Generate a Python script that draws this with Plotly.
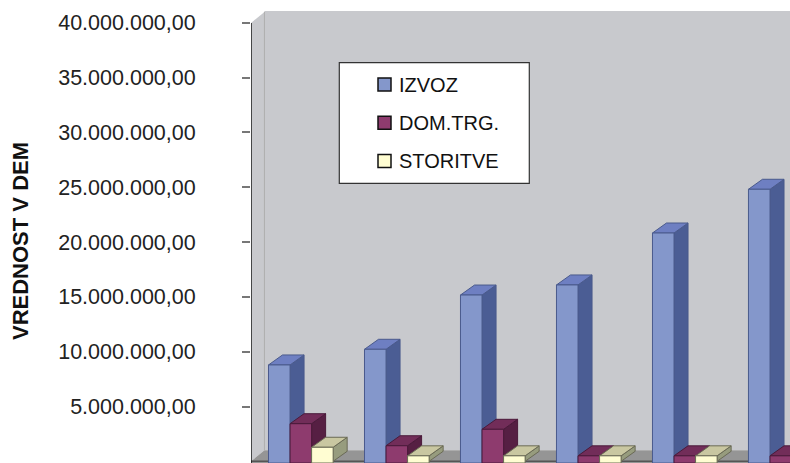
import plotly.graph_objects as go

# ---------------- data ----------------
groups = ["1", "2", "3", "4", "5", "6"]
series_names = ["IZVOZ", "DOM.TRG.", "STORITVE"]
izvoz = [8.79e6, 10.22e6, 15.17e6, 16.09e6, 20.83e6, 24.82e6]
dom_trg = [3.43e6, 1.42e6, 2.92e6, 0.50e6, 0.50e6, 0.50e6]
storitve = [1.28e6, 0.50e6, 0.50e6, 0.50e6, 0.50e6, 0.50e6]
y_ticks = [5e6, 10e6, 15e6, 20e6, 25e6, 30e6, 35e6, 40e6]
axis_title = "VREDNOST V DEM"

# ---------------- styles ----------------
W, H = 790, 463
ML, MR, MT, MB = 251, 0, 11, 0
PW, PH = W - ML - MR, H - MT - MB
X_RANGE = [-0.519, 5.096]
Y_RANGE = [-0.155e6, 41.085e6]

bar_w = 0.2245          # width of a bar (category units)
dx, dy = 0.146, 0.912e6  # 3D depth offset of bars
wdx, wdy = 0.14, 1.0e6   # 3D depth offset of walls

styles = [
    dict(front="#8497cb", side="#4b5d94", top="#6e7fc2", edge="#4a5a8c"),
    dict(front="#8e3b6e", side="#561f43", top="#722d59", edge="#4a1a3a"),
    dict(front="#fffdd2", side="#979c7e", top="#c9c7a1", edge="#6a6a55"),
]
wall_col = "#c8c9cd"
floor_col = "#959595"
FONT = "Liberation Sans, Arial, sans-serif"

fig = go.Figure()

values = [izvoz, dom_trg, storitve]
offsets = [-bar_w, 0.0, bar_w]


def poly_trace(xs, ys, fill, edge):
    return go.Scatter(x=xs, y=ys, mode="lines", fill="toself", fillcolor=fill,
                      line=dict(color=edge, width=1), hoverinfo="skip",
                      showlegend=False)


for s, (vals, off, st) in enumerate(zip(values, offsets, styles)):
    fx, fy, sx, sy, tx, ty = [], [], [], [], [], []
    for i, v in enumerate(vals):
        xl = i + off - bar_w / 2
        xr = i + off + bar_w / 2
        # side face
        sx += [xr, xr, xr + dx, xr + dx, xr, None]
        sy += [0, v, v + dy, dy, 0, None]
        # top face
        tx += [xl, xr, xr + dx, xl + dx, xl, None]
        ty += [v, v, v + dy, v + dy, v, None]
        # front face
        fx += [xl, xr, xr, xl, xl, None]
        fy += [Y_RANGE[0], Y_RANGE[0], v, v, Y_RANGE[0], None]
    fig.add_trace(poly_trace(sx, sy, st["side"], st["edge"]))
    fig.add_trace(poly_trace(tx, ty, st["top"], st["edge"]))
    fig.add_trace(poly_trace(fx, fy, st["front"], st["edge"]))

x0, xR = X_RANGE
shapes = [
    # left side wall
    dict(type="path", layer="below", xref="x", yref="y",
         path=f"M {x0},0 L {x0},{y_ticks[-1]} L {x0 + wdx},{y_ticks[-1] + wdy} L {x0 + wdx},{wdy} Z",
         fillcolor=wall_col, line=dict(width=0)),
    # back wall
    dict(type="rect", layer="below", xref="x", yref="y",
         x0=x0 + wdx, x1=xR + 1, y0=wdy, y1=Y_RANGE[1] + 1e6,
         fillcolor=wall_col, line=dict(width=0)),
    # floor
    dict(type="path", layer="below", xref="x", yref="y",
         path=f"M {x0},{Y_RANGE[0]} L {x0},0 L {x0 + wdx},{wdy} L {xR + 1},{wdy} L {xR + 1},{Y_RANGE[0]} Z",
         fillcolor=floor_col, line=dict(width=0)),
    # back corner line
    dict(type="line", layer="below", xref="x", yref="y",
         x0=x0 + wdx, x1=x0 + wdx, y0=wdy, y1=y_ticks[-1] + wdy,
         line=dict(color="#aeaeae", width=1)),
    # floor front edge
    dict(type="line", layer="below", xref="x", yref="y",
         x0=x0, x1=xR + 1, y0=0, y1=0, line=dict(color="#555555", width=1.5)),
    # value axis line
    dict(type="line", layer="above", xref="x", yref="y",
         x0=x0, x1=x0, y0=Y_RANGE[0], y1=y_ticks[-1],
         line=dict(color="#1a1a1a", width=1.5)),
]


def px_x(p):
    return (p - ML) / PW


def px_y(p):
    return (H - MB - p) / PH


# manual legend
leg_l, leg_r, leg_t, leg_b = 339.3, 529.3, 62.7, 183.3
shapes.append(dict(type="rect", xref="paper", yref="paper",
                   x0=px_x(leg_l), x1=px_x(leg_r), y0=px_y(leg_b), y1=px_y(leg_t),
                   fillcolor="white", line=dict(color="#333333", width=1.2)))
annotations = []
row_c = [84.5, 122.8, 161.0]
for name, st, yc in zip(series_names, styles, row_c):
    shapes.append(dict(type="rect", xref="paper", yref="paper",
                       x0=px_x(378), x1=px_x(391), y0=px_y(yc + 6.5), y1=px_y(yc - 6.5),
                       fillcolor=st["front"], line=dict(color="#111111", width=1.5)))
    annotations.append(dict(xref="paper", yref="paper", x=px_x(397), y=px_y(yc),
                            xanchor="left", yanchor="middle", showarrow=False,
                            text=name, font=dict(family=FONT, size=20, color="#111111")))

annotations.append(dict(xref="paper", yref="paper", x=px_x(20), y=px_y(241),
                        xanchor="center", yanchor="middle", showarrow=False,
                        textangle=-90, text=f"<b>{axis_title}</b>",
                        font=dict(family=FONT, size=22, color="#111111")))

fig.update_layout(
    width=W, height=H, autosize=False,
    margin=dict(l=ML, r=MR, t=MT, b=MB, pad=0),
    paper_bgcolor="white", plot_bgcolor="white",
    separators=",.",
    showlegend=False,
    shapes=shapes, annotations=annotations,
    xaxis=dict(range=X_RANGE, showgrid=False, zeroline=False, showline=False,
               showticklabels=False, ticks="", fixedrange=True),
    yaxis=dict(range=Y_RANGE, showgrid=False, zeroline=False, showline=False,
               tickmode="array", tickvals=y_ticks, tickformat=",.2f",
               ticks="outside", ticklen=8, tickwidth=1.5, tickcolor="#777777",
               ticklabelstandoff=42,
               tickfont=dict(family=FONT, size=21.5, color="#222222")),
)

fig.write_html("out.html")
